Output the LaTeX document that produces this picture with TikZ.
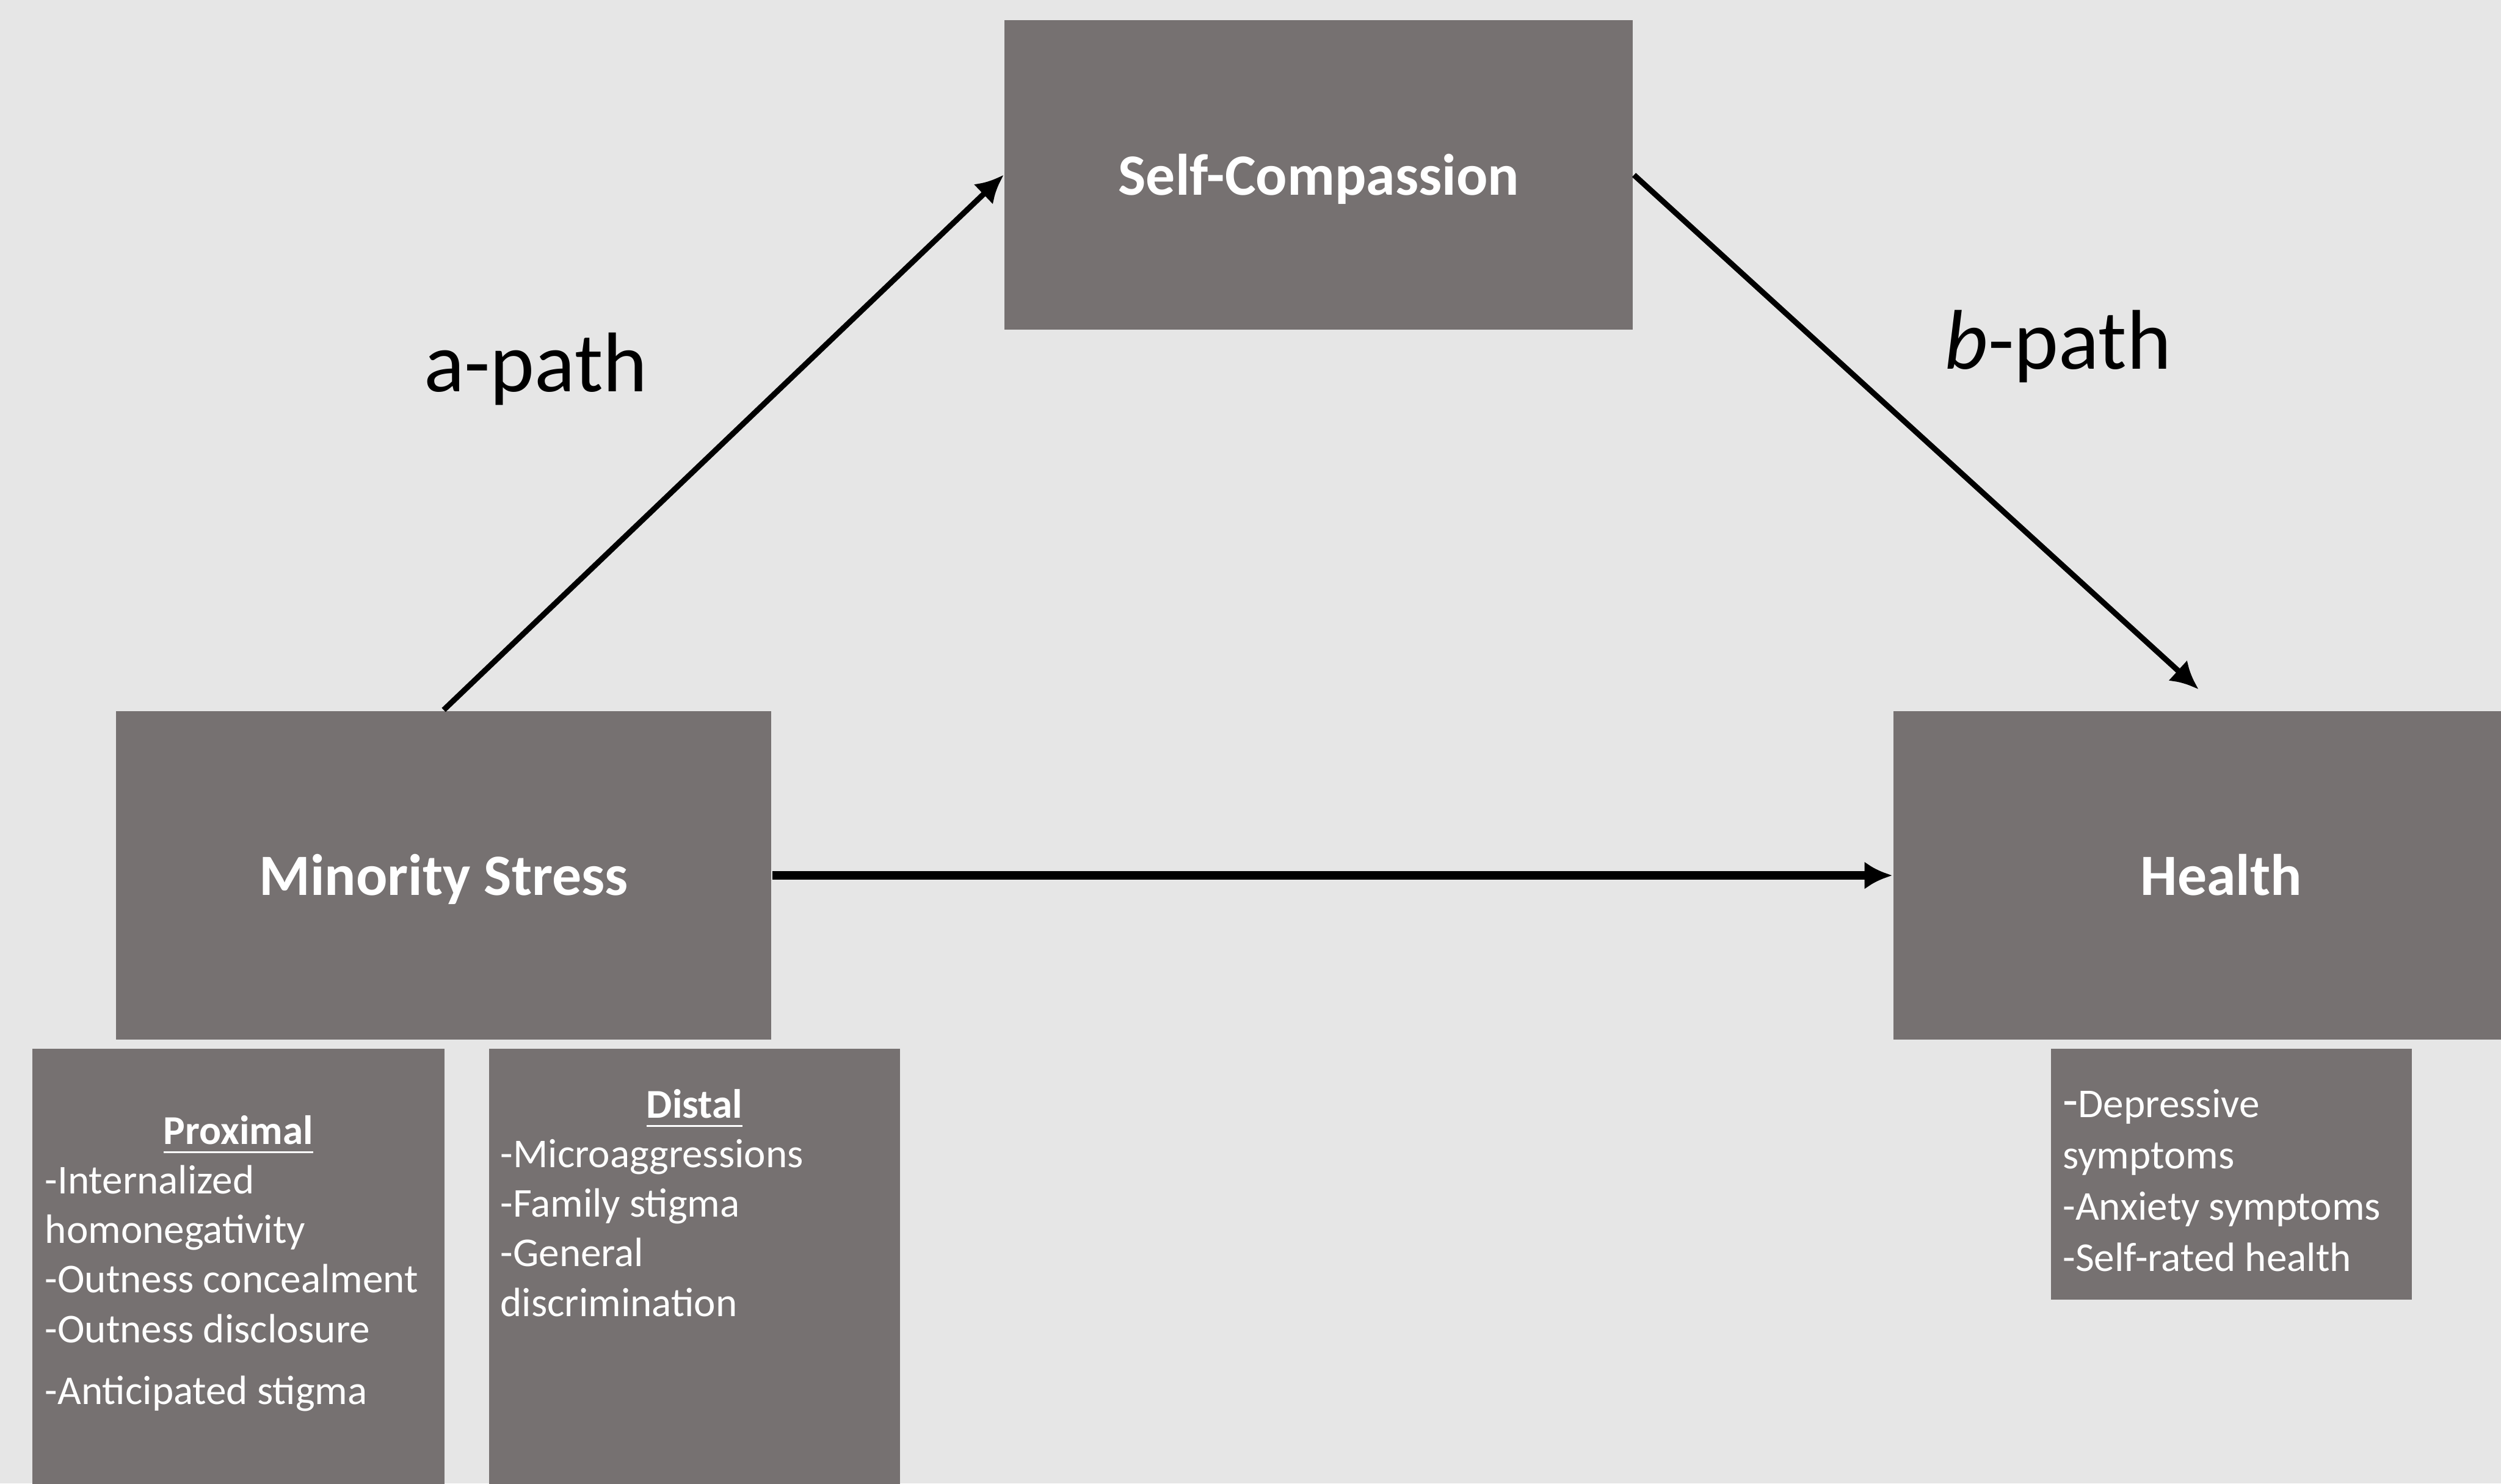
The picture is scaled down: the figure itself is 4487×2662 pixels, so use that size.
\documentclass[tikz,border=0pt]{standalone}
\usepackage{fontspec}
\setmainfont{Carlito}
\usetikzlibrary{arrows.meta}
\definecolor{bgcol}{HTML}{E6E6E6}
\definecolor{boxcol}{HTML}{767171}
\tikzset{
	mainbox/.style={fill=boxcol,text=white,inner sep=0pt,minimum width=117.6pt,minimum height=59pt,text height=7.1pt,text depth=0pt,font=\fontsize{10.5}{12.6}\selectfont\bfseries},
	subbox/.style={fill=boxcol,inner sep=0pt,anchor=north west},
	subtext/.style={text=white,inner sep=0pt,anchor=base west,font=\fontsize{7.35}{8.9}\selectfont},
	pathlabel/.style={inner sep=0pt,anchor=base,font=\fontsize{15.2}{18}\selectfont},
	link/.style={->,>={Latex[length=5pt,width=5pt]},line width=1pt},
}
\begin{document}
\begin{tikzpicture}[x=0.1pt,y=-0.1pt]
	\useasboundingbox (0,0) rectangle (4487,2662);
	\clip (0,0) rectangle (4487,2662);
	\fill[bgcol] (0,0) rectangle (4487,2662);
	% the three variables
	\node[mainbox,minimum width=112.7pt,minimum height=55.5pt] (sc) at (2366,314) {Self-Compassion};
	\node[mainbox] (ms) at (796,1571) {Minority Stress};
	\node[mainbox] (hl) at (3985,1571) {Health};
	% indicator boxes
	\node[subbox,minimum width=73.9pt,minimum height=90pt] (prox) at (56,1880) {};
	\node[subbox,minimum width=73.8pt,minimum height=90pt] (dist) at (875,1880) {};
	\node[subbox,minimum width=64.7pt,minimum height=45pt] (hsub) at (3678,1880) {};
	\node[subtext] (proxtext) at (79,2053) {\parbox[t]{69.3pt}{{\centering\bfseries\underline{Proximal}\par}\raggedright
		-Internalized\\ homonegativity\\ -Outness concealment\\ -Outness disclosure\\[2.2pt] -Anticipated stigma}};
	\node[subtext] (disttext) at (896,2006) {\parbox[t]{69.6pt}{{\centering\bfseries\underline{Distal}\par}\raggedright
		-Microaggressions\\ -Family stigma\\ -General\\ discrimination}};
	\node[subtext] (hsubtext) at (3699,2005) {\parbox[t]{61pt}{\baselineskip=9.2pt\raggedright
		{\fontsize{9}{9}\selectfont -}Depressive\\ symptoms\\ -Anxiety symptoms\\ -Self-rated health}};
	% paths
	\draw[link] (ms.north) -- (sc.west);
	\draw[link,shorten >=5.5pt] (sc.east) -- (hl.north);
	\draw[link,line width=1.6pt] (ms.east) -- (hl.west);
	\node[pathlabel] (apath) at (961,703) {a-path};
	\node[pathlabel] (bpath) at (3692,662) {\textit{b}-path};
\end{tikzpicture}
\end{document}
